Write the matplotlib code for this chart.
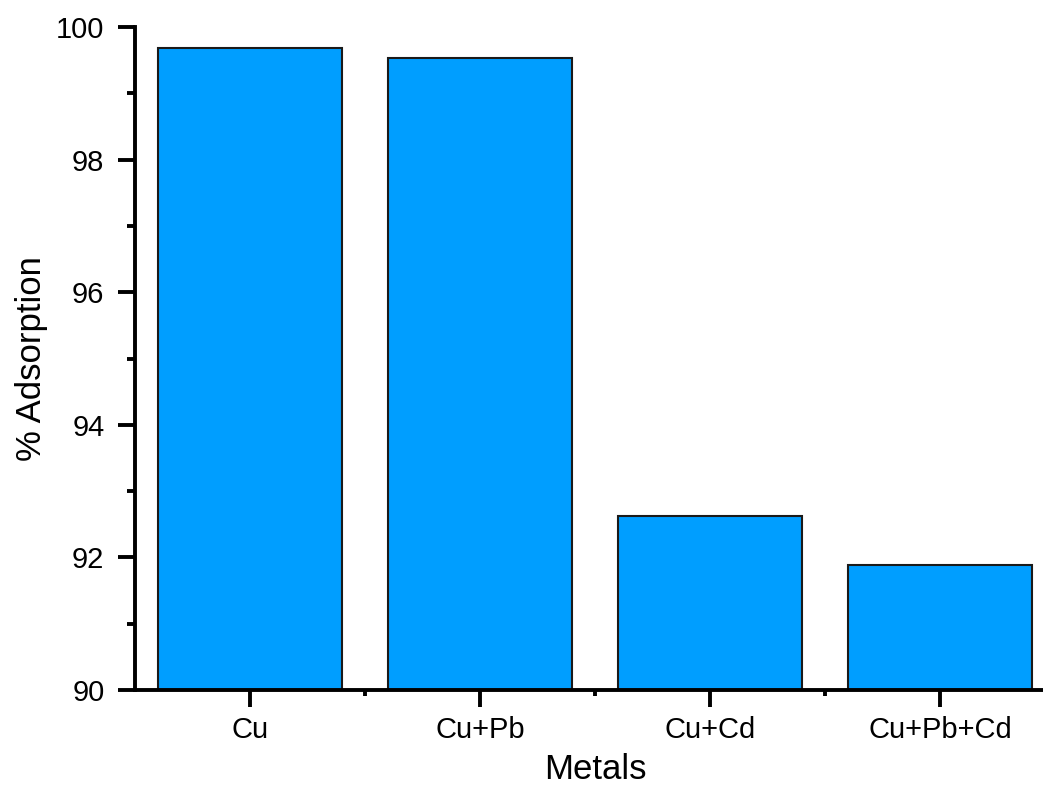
import matplotlib.pyplot as plt
from matplotlib.ticker import MultipleLocator, FixedLocator

metals = ["Cu", "Cu+Pb", "Cu+Cd", "Cu+Pb+Cd"]
adsorption = [99.68, 99.53, 92.63, 91.88]

plt.rcParams['font.family'] = ['Liberation Sans', 'DejaVu Sans']

fig = plt.figure(figsize=(10.43, 7.86), dpi=100)
# axes run past the right edge, like the cropped original
ax = fig.add_axes([135 / 1043, 1 - 690 / 786, 920 / 1043, 663 / 786])

pos = list(range(1, len(metals) + 1))
ax.bar(pos, adsorption, width=0.8, color='#009EFF', edgecolor='#1a1a1a', linewidth=1.5)

ax.set_xlim(0.5, len(metals) + 0.5)
ax.set_ylim(90, 100)
ax.set_xticks(pos)
ax.set_xticklabels(metals)
ax.xaxis.set_minor_locator(FixedLocator([p + 0.5 for p in pos[:-1]]))
ax.yaxis.set_major_locator(MultipleLocator(2))
ax.yaxis.set_minor_locator(MultipleLocator(1))

for s in ['top', 'right']:
    ax.spines[s].set_visible(False)
for s in ['left', 'bottom']:
    ax.spines[s].set_linewidth(2.8)

ax.tick_params(which='major', direction='out', length=12, width=2.8, labelsize=21)
ax.tick_params(axis='y', which='major', pad=10)
ax.tick_params(axis='x', which='major', pad=7)
ax.tick_params(axis='y', which='minor', direction='out', length=6, width=2.8)
ax.tick_params(axis='x', which='minor', direction='out', length=4, width=2.8)

ax.set_xlabel('Metals', fontsize=25, labelpad=6)
ax.set_ylabel('% Adsorption', fontsize=25, labelpad=6)

fig.savefig('out.png', dpi=100)
